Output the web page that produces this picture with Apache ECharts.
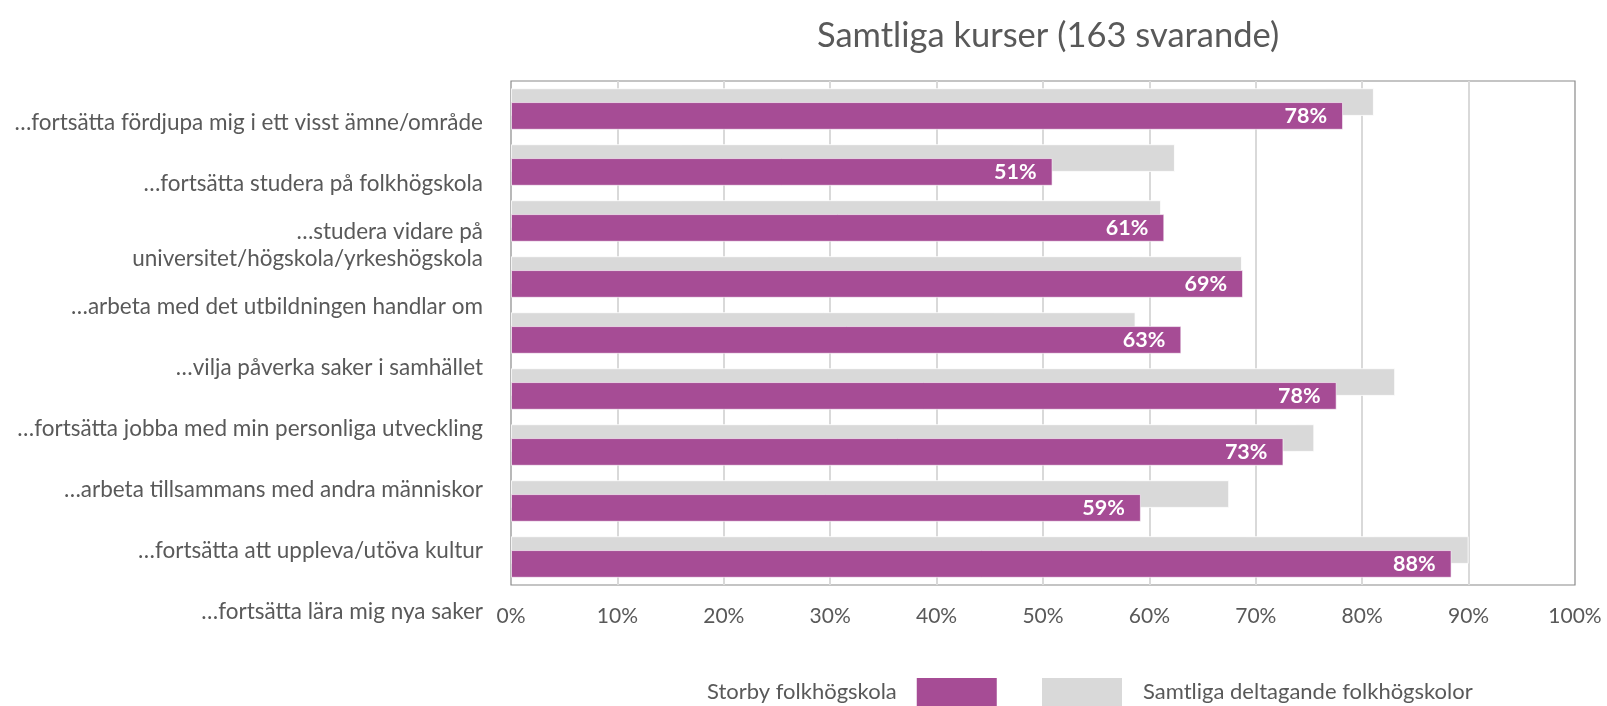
<!DOCTYPE html>
<html>
<head>
<meta charset="utf-8">
<script src="https://cdn.jsdelivr.net/npm/echarts@6/dist/echarts.min.js"></script>
<style>
html,body{margin:0;padding:0;background:#fff;}
#chart{width:1607px;height:706px;}
</style>
</head>
<body>
<div id="chart"></div>
<script>
const titleText = 'Samtliga kurser (163 svarande)';
const categories = [
  '…fortsätta fördjupa mig i ett visst ämne/område',
  '…fortsätta studera på folkhögskola',
  '…studera vidare på\nuniversitet/högskola/yrkeshögskola',
  '…arbeta med det utbildningen handlar om',
  '…vilja påverka saker i samhället',
  '…fortsätta jobba med min personliga utveckling',
  '…arbeta tillsammans med andra människor',
  '…fortsätta att uppleva/utöva kultur',
  '…fortsätta lära mig nya saker'
];
const seriesNames = ['Storby folkhögskola', 'Samtliga deltagande folkhögskolor'];
const storby = [78.2, 50.9, 61.4, 68.8, 63.0, 77.6, 72.6, 59.2, 88.4];
const samtliga = [81.1, 62.4, 61.1, 68.7, 58.7, 83.1, 75.5, 67.5, 90.0];
const xTicks = [0, 10, 20, 30, 40, 50, 60, 70, 80, 90, 100];

const FONT = 'Lato';
const TXT = '#595959';
const PURPLE = '#A64C95';
const GRAY = '#D9D9D9';

const chart = echarts.init(document.getElementById('chart'), null, {renderer: 'canvas'});
chart.setOption({
  animation: false,
  backgroundColor: '#ffffff',
  textStyle: {fontFamily: FONT},
  title: {
    text: titleText,
    left: 812, top: 13,
    textStyle: {fontFamily: FONT, fontSize: 34.5, fontWeight: 'normal', color: TXT}
  },
  legend: [
    {
      data: [seriesNames[0]],
      left: 707, top: 678,
      align: 'right',
      padding: 0,
      itemWidth: 80, itemHeight: 28,
      icon: 'rect',
      itemStyle: {borderWidth: 0},
      textStyle: {fontFamily: FONT, fontSize: 22, color: TXT, padding: [0, 15, 0, 0]}
    },
    {
      data: [seriesNames[1]],
      left: 1042, top: 678,
      align: 'left',
      padding: 0,
      itemWidth: 80, itemHeight: 28,
      icon: 'rect',
      itemStyle: {borderWidth: 0},
      textStyle: {fontFamily: FONT, fontSize: 22, color: TXT, padding: [0, 0, 0, 16]}
    }
  ],
  grid: [
    {left: 511, top: 81, width: 1064, height: 504, show: true, borderColor: '#8a8a8a', borderWidth: 1.2, backgroundColor: 'transparent'},
    {left: 0, top: 92.5, width: 493, height: 550, show: false}
  ],
  xAxis: [
    {
      gridIndex: 0, type: 'value', min: xTicks[0], max: xTicks[xTicks.length - 1], interval: 10,
      axisLine: {show: false}, axisTick: {show: false},
      splitLine: {show: true, showMinLine: false, showMaxLine: false, lineStyle: {color: GRAY, width: 2}},
      axisLabel: {formatter: '{value}%', fontFamily: FONT, fontSize: 21, color: TXT, margin: 21}
    },
    {gridIndex: 1, type: 'value', show: false, min: 0, max: 100}
  ],
  yAxis: [
    {
      gridIndex: 0, type: 'category', inverse: true, data: categories,
      axisLine: {show: false}, axisTick: {show: false}, axisLabel: {show: false}, splitLine: {show: false}
    },
    {
      gridIndex: 1, type: 'category', inverse: true, data: categories,
      axisLine: {show: false}, axisTick: {show: false}, splitLine: {show: false},
      axisLabel: {fontFamily: FONT, fontSize: 22.5, lineHeight: 27, color: TXT, margin: 10, align: 'right'}
    }
  ],
  series: [
    {
      name: seriesNames[1], type: 'bar', xAxisIndex: 0, yAxisIndex: 0,
      data: samtliga, barWidth: '49.5%', barGap: '-50%', z: 2,
      itemStyle: {color: GRAY, borderColor: 'rgba(255,255,255,0.8)', borderWidth: 1}
    },
    {
      name: seriesNames[0], type: 'bar', xAxisIndex: 0, yAxisIndex: 0,
      data: storby, barWidth: '49.5%', barGap: '-50%', z: 3,
      itemStyle: {color: PURPLE, borderColor: 'rgba(255,255,255,0.6)', borderWidth: 1},
      label: {
        show: true, position: 'insideRight', distance: 16,
        formatter: p => Math.round(p.value) + '%',
        fontFamily: FONT, fontSize: 21.5, fontWeight: 'bold', color: '#ffffff'
      }
    }
  ]
});
</script>
</body>
</html>
